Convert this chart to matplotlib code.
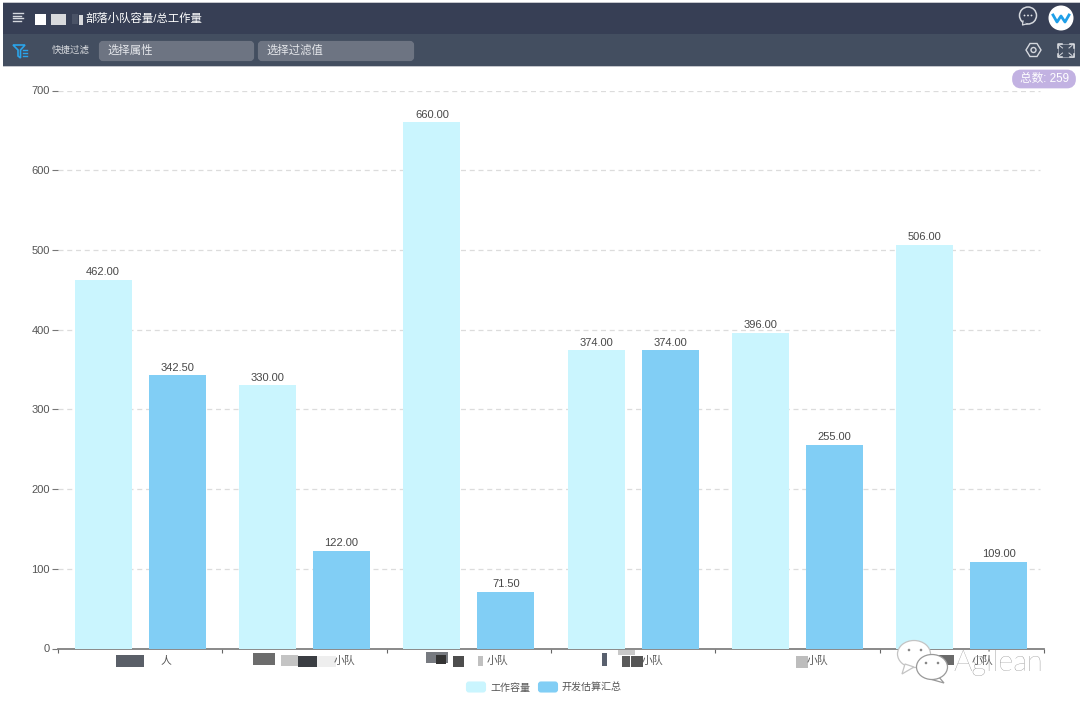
import matplotlib
matplotlib.use("Agg")
import matplotlib.pyplot as plt
from matplotlib.patches import Rectangle, FancyBboxPatch, Circle, Ellipse, Polygon
from matplotlib.ticker import NullFormatter

plt.rcParams['font.family'] = ['Liberation Sans', 'Noto Sans CJK SC', 'DejaVu Sans']

tick_labels = ['人', '小队', '小队', '小队', '小队', '小队']
capacity = [462, 330, 660, 374, 396, 506]
estimate = [342.5, 122, 71.5, 374, 255, 109]
series_names = ['工作容量', '开发估算汇总']
y_ticks = [0, 100, 200, 300, 400, 500, 600, 700]

LIGHT = '#caf5fe'
BLUE = '#81cef5'
TEXT = '#555555'

W, H = 1080, 713
fig = plt.figure(figsize=(W / 100, H / 100), dpi=100)

# main chart, placed by pixels
left, right, top, bottom = 58, 1044, 90.5, 648.5
ax = fig.add_axes([left / W, 1 - bottom / H, (right - left) / W, (bottom - top) / H])
ax.set_xlim(0, 6)
ax.set_ylim(0, 700)

x = [i + 0.5 for i in range(6)]
bar_w = 57 / 164.3
off = 37 / 164.3
b1 = ax.bar([i - off for i in x], capacity, bar_w, color=LIGHT, zorder=3)
b2 = ax.bar([i + off for i in x], estimate, bar_w, color=BLUE, zorder=3)
for bars, vals in ((b1, capacity), (b2, estimate)):
    for r, v in zip(bars, vals):
        ax.annotate('%.2f' % v, (r.get_x() + r.get_width() / 2, v), xytext=(0, 2),
                    textcoords='offset points', ha='center', va='bottom', fontsize=8,
                    color='#484848', zorder=4)

ax.set_yticks(y_ticks)
ax.set_xticks(range(7))
ax.xaxis.set_major_formatter(NullFormatter())
ax.tick_params(axis='y', length=4.5, width=0.8, color='#777777', labelcolor=TEXT, labelsize=8, pad=1.5)
ax.tick_params(axis='x', length=3, width=0.8, color='#666666')
# gridlines stop a little short of the axis end
ax.hlines(y_ticks[1:], 0, 5.975, color='#dcdcdc', linestyle=(0, (4, 3)), linewidth=0.9, zorder=0)
for s in ('top', 'right', 'left'):
    ax.spines[s].set_visible(False)
ax.spines['bottom'].set_color('#808080')
ax.spines['bottom'].set_linewidth(1.3)

# overlay in pixel coordinates for the page chrome
ov = fig.add_axes([0, 0, 1, 1], facecolor='none')
ov.set_xlim(0, W)
ov.set_ylim(H, 0)
ov.axis('off')

ov.add_patch(Rectangle((3, 2), W, 64.5, color='#c4c6cc', lw=0))
ov.add_patch(Rectangle((3, 3), W, 30.5, color='#373f55', lw=0))
ov.add_patch(Rectangle((3, 33.5), W, 32, color='#434e60', lw=0))

# menu icon
for yy, xe in ((13, 23), (15.5, 21), (18, 23), (20.5, 21)):
    ov.plot([13, xe], [yy, yy], color='#d5d8de', lw=1)

# redacted part of the title
ov.add_patch(Rectangle((35, 14), 11, 10.5, color='white', lw=0))
ov.add_patch(Rectangle((51, 14), 15, 10.5, color='#d8d9dc', lw=0))
ov.add_patch(Rectangle((72, 14), 6, 10, color='#4a5266', lw=0))
ov.add_patch(Rectangle((79, 15), 4, 9.5, color='#d8d9dc', lw=0))
ov.text(85, 18.5, '部落小队容量/总工作量', color='white', fontsize=8.2, va='center')

# filter row
ov.add_patch(Polygon([(13, 45), (25, 45), (20.5, 50), (20.5, 58), (18, 56), (18, 50)],
                     fc='none', ec='#2aa4ea', lw=1.2))
for yy in (50, 53, 56):
    ov.plot([23, 27], [yy, yy], color='#2aa4ea', lw=1)
ov.text(52, 50, '快捷过滤', color='#d8dade', fontsize=6.8, va='center')
for xs, xe, label in ((99, 254, '选择属性'), (258, 414, '选择过滤值')):
    ov.add_patch(FancyBboxPatch((xs + 2, 43), xe - xs - 4, 16, boxstyle='round,pad=0,rounding_size=2',
                                mutation_aspect=1, fc='#6d7482', ec='#6d7482', lw=3))
    ov.text(xs + 8, 50.5, label, color='#e4e6ea', fontsize=8.2, va='center')

# right side icons
ov.add_patch(Circle((1028, 15.5), 8.5, fc='none', ec='#d5d8de', lw=1.1))
ov.add_patch(Polygon([(1023, 21), (1022.5, 25), (1027, 23.5)], fc='#373f55', ec='none'))
ov.plot([1023, 1022.5, 1027], [21, 25, 23.8], color='#d5d8de', lw=0.9)
for xx in (1024.5, 1028, 1031.5):
    ov.add_patch(Circle((xx, 15.5), 0.9, color='#e4e6ea', lw=0))
ov.add_patch(Circle((1061, 18), 12.5, color='white', lw=0))
ov.plot([1053, 1057, 1061, 1065, 1069], [15, 22, 16, 22, 15], color='#1f9fe8', lw=2)
ov.add_patch(Polygon([(1026, 50), (1030, 43.5), (1037, 43.5), (1041, 50), (1037, 56.5), (1030, 56.5)],
                     fc='none', ec='#d5d8de', lw=1))
ov.add_patch(Circle((1033.5, 50), 2.5, fc='none', ec='#d5d8de', lw=1))
ov.add_patch(Rectangle((1058, 44), 15.5, 13, fc='none', ec='#8d94a1', lw=0.7))
for cx, cy, dx, dy in ((1058, 44, 1, 1), (1073.5, 44, -1, 1), (1058, 57, 1, -1), (1073.5, 57, -1, -1)):
    ov.plot([cx + 3.5 * dx, cx, cx], [cy, cy, cy + 3.5 * dy], color='#e0e2e6', lw=1.1)
    ov.plot([cx + 1.5 * dx, cx + 4.5 * dx], [cy + 1.5 * dy, cy + 4 * dy], color='#d5d8de', lw=0.7)

# total badge
ov.add_patch(FancyBboxPatch((1017, 74.5), 54, 9, boxstyle='round,pad=0,rounding_size=4',
                            fc='#c2b2e2', ec='#c2b2e2', lw=7))
ov.text(1044, 79, '总数: 259', color='white', fontsize=8.4, ha='center', va='center')

# blurred category names
blocks = [
    (116, 655, 28, 11.5, '#5a5f68'),
    (253, 653, 22, 12, '#6c6c6c'), (281, 655, 17, 11, '#c4c4c4'), (298, 656, 19, 11, '#3a3d42'),
    (317, 656, 19, 11, '#eeeeee'),
    (426, 652, 22, 11, '#777a80'), (436, 655, 10, 9, '#333333'), (453, 656, 11, 11, '#4d4d4d'),
    (478, 656, 5, 10, '#c0c0c0'),
    (602, 653, 5, 13, '#59606e'), (618, 650, 17, 5, '#c8c8c8'), (622, 656, 8, 11, '#5a5a5a'),
    (631, 656, 12, 11, '#555555'),
    (796, 656, 12, 12, '#bdbdbd'),
    (936, 655, 18, 10, '#6a6a6a'),
]
label_x = [166, 345, 498, 653, 818, 983]
for lx, t in zip(label_x, tick_labels):
    ov.text(lx, 660.5, t, color=TEXT, fontsize=7.8, ha='center', va='center')
for bx, by, bw, bh, col in blocks:
    ov.add_patch(Rectangle((bx, by), bw, bh, color=col, lw=0))

# legend
for lx, tx, col, name in ((466, 490, LIGHT, series_names[0]), (538, 562, BLUE, series_names[1])):
    ov.add_patch(FancyBboxPatch((lx + 1, 682.5), 18, 9, boxstyle='round,pad=0,rounding_size=2',
                                fc=col, ec=col, lw=1.5))
    ov.text(tx, 687.5, name, color=TEXT, fontsize=7.2, va='center')

# watermark
ov.add_patch(Ellipse((914, 654), 33, 27, fc='white', ec='#c4c4c4', lw=0.9, zorder=6))
ov.add_patch(Polygon([(905, 664), (902, 674), (914, 667)], fc='white', ec='#c4c4c4', lw=0.9, zorder=6))
ov.add_patch(Polygon([(938, 676), (944, 683), (930, 679)], fc='white', ec='#999999', lw=0.9, zorder=7))
ov.add_patch(Ellipse((932, 667), 31, 25, fc='white', ec='#999999', lw=0.9, zorder=7))
for xx, yy in ((909, 650), (921, 650), (926, 663), (938, 663)):
    ov.add_patch(Circle((xx, yy), 1.3, color='#888888', lw=0, zorder=8))
ov.text(953, 663, 'Agilean', color='#777777', fontsize=21, fontweight='light',
        family='Lato', va='center', zorder=8)

fig.savefig('out.png', dpi=100)
